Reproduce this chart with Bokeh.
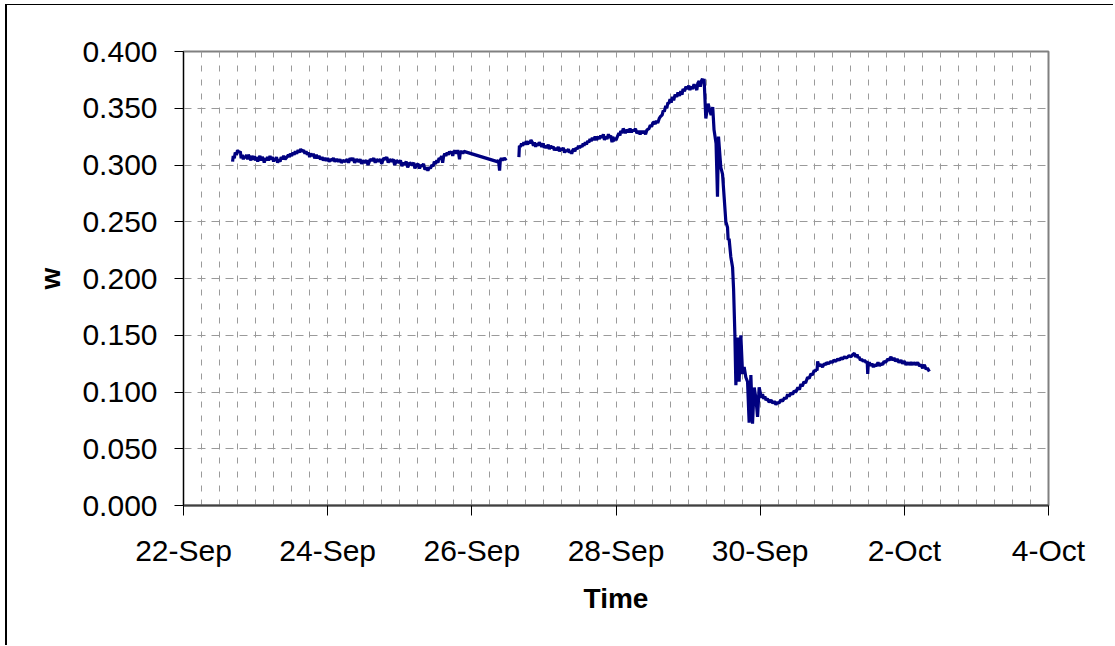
from bokeh.plotting import figure
from bokeh.embed import file_html
from bokeh.resources import INLINE
from bokeh.models import FixedTicker, NumeralTickFormatter, Range1d

# ---- data (x: days since 22-Sep 00:00, y: w) ----
seg1_days = [0.681, 0.690, 0.705, 0.718, 0.735, 0.750, 0.770, 0.788, 0.800, 0.815, 0.830, 0.845,
             0.857, 0.875, 0.890, 0.899, 0.920, 0.935, 0.950, 0.970, 0.985, 0.996, 1.015, 1.030,
             1.042, 1.060, 1.075, 1.093, 1.110, 1.120, 1.135, 1.150, 1.165, 1.181, 1.200, 1.215,
             1.232, 1.250, 1.262, 1.274, 1.290, 1.305, 1.319, 1.340, 1.355, 1.371, 1.390, 1.410,
             1.436, 1.455, 1.470, 1.482, 1.500, 1.520, 1.535, 1.551, 1.570, 1.590, 1.607, 1.625,
             1.645, 1.667, 1.685, 1.700, 1.718, 1.735, 1.750, 1.765, 1.783, 1.800, 1.820, 1.843,
             1.860, 1.880, 1.900, 1.922, 1.940, 1.960, 1.982, 2.000, 2.020, 2.040, 2.061, 2.080,
             2.100, 2.125, 2.149, 2.170, 2.190, 2.215, 2.246, 2.270, 2.290, 2.310, 2.329, 2.350,
             2.375, 2.400, 2.431, 2.450, 2.470, 2.490, 2.510, 2.540, 2.560, 2.590, 2.617, 2.640,
             2.660, 2.680, 2.704, 2.730, 2.750, 2.775, 2.801, 2.820, 2.840, 2.860, 2.885, 2.910,
             2.930, 2.955, 2.986, 3.010, 3.030, 3.050, 3.065, 3.090, 3.110, 3.140, 3.172, 3.195,
             3.210, 3.232, 3.255, 3.275, 3.295, 3.311, 3.330, 3.350, 3.371, 3.390, 3.410, 3.426,
             3.445, 3.465, 3.480, 3.496, 3.515, 3.530, 3.545, 3.565, 3.580, 3.595, 3.607, 3.625,
             3.640, 3.658, 3.675, 3.690, 3.705, 3.718, 3.735, 3.750, 3.774, 3.790, 3.805, 3.815,
             3.829, 3.840, 3.860, 3.875, 3.889, 4.353, 4.370, 4.385, 4.395, 4.410, 4.422, 4.440,
             4.460, 4.482]
seg1_w = [0.303, 0.308, 0.306, 0.311, 0.309, 0.313, 0.311, 0.312, 0.306, 0.309, 0.305, 0.308,
          0.306, 0.309, 0.305, 0.309, 0.307, 0.304, 0.308, 0.305, 0.308, 0.304, 0.307, 0.303,
          0.306, 0.308, 0.304, 0.307, 0.305, 0.302, 0.306, 0.304, 0.307, 0.304, 0.308, 0.305,
          0.307, 0.303, 0.306, 0.304, 0.307, 0.302, 0.305, 0.303, 0.307, 0.305, 0.308, 0.305,
          0.307, 0.309, 0.307, 0.310, 0.308, 0.311, 0.309, 0.312, 0.310, 0.313, 0.311, 0.314,
          0.312, 0.313, 0.310, 0.312, 0.309, 0.311, 0.307, 0.310, 0.308, 0.310, 0.306, 0.309,
          0.306, 0.308, 0.305, 0.307, 0.304, 0.306, 0.304, 0.306, 0.303, 0.305, 0.304, 0.306,
          0.303, 0.305, 0.303, 0.305, 0.302, 0.304, 0.303, 0.305, 0.302, 0.306, 0.304, 0.306,
          0.302, 0.305, 0.303, 0.305, 0.301, 0.304, 0.302, 0.304, 0.300, 0.305, 0.304, 0.306,
          0.302, 0.305, 0.303, 0.305, 0.301, 0.306, 0.305, 0.307, 0.302, 0.305, 0.303, 0.305,
          0.300, 0.304, 0.302, 0.304, 0.299, 0.302, 0.300, 0.303, 0.298, 0.302, 0.300, 0.302,
          0.297, 0.300, 0.301, 0.297, 0.300, 0.299, 0.301, 0.296, 0.298, 0.295, 0.298, 0.297,
          0.300, 0.299, 0.303, 0.301, 0.304, 0.302, 0.306, 0.305, 0.308, 0.302, 0.307, 0.310,
          0.308, 0.311, 0.309, 0.312, 0.310, 0.312, 0.308, 0.312, 0.312, 0.310, 0.313, 0.311,
          0.305, 0.311, 0.312, 0.310, 0.312, 0.303, 0.304, 0.295, 0.304, 0.306, 0.304, 0.306,
          0.305, 0.306]

seg2_days = [4.653, 4.660, 4.675, 4.690, 4.705, 4.722, 4.740, 4.755, 4.774, 4.790, 4.805, 4.820,
             4.839, 4.855, 4.870, 4.885, 4.899, 4.915, 4.935, 4.954, 4.970, 4.990, 5.005, 5.024,
             5.040, 5.060, 5.075, 5.093, 5.110, 5.130, 5.145, 5.163, 5.180, 5.200, 5.215, 5.232,
             5.250, 5.270, 5.285, 5.301, 5.320, 5.340, 5.355, 5.371, 5.385, 5.400, 5.413, 5.430,
             5.445, 5.464, 5.480, 5.495, 5.510, 5.530, 5.545, 5.556, 5.575, 5.590, 5.607, 5.625,
             5.640, 5.655, 5.672, 5.690, 5.710, 5.732, 5.750, 5.770, 5.788, 5.805, 5.825, 5.840,
             5.857, 5.875, 5.895, 5.910, 5.926, 5.945, 5.955, 5.968, 5.985, 6.000, 6.019, 6.040,
             6.055, 6.065, 6.085, 6.100, 6.111, 6.130, 6.150, 6.176, 6.195, 6.215, 6.235, 6.251,
             6.270, 6.290, 6.315, 6.335, 6.355, 6.372, 6.390, 6.410, 6.430, 6.458, 6.475, 6.495,
             6.510, 6.528, 6.545, 6.560, 6.579, 6.600, 6.621, 6.640, 6.655, 6.670, 6.690, 6.705,
             6.720, 6.732, 6.750, 6.765, 6.783, 6.800, 6.820, 6.843, 6.860, 6.880, 6.899, 6.915,
             6.930, 6.950, 6.970, 6.992, 7.010, 7.025, 7.038, 7.060, 7.083, 7.100, 7.121, 7.135,
             7.153, 7.170, 7.185, 7.200, 7.212, 7.222,
             7.246, 7.278, 7.319, 7.342, 7.360, 7.388, 7.408, 7.422, 7.454, 7.478,
             7.500, 7.524, 7.547, 7.556, 7.569, 7.593, 7.617, 7.631, 7.649, 7.663,
             7.686, 7.708, 7.732, 7.756, 7.778, 7.801, 7.825, 7.847, 7.871, 7.894,
             7.917, 7.940, 7.964, 7.986,
             8.000, 8.015, 8.033, 8.050, 8.065, 8.079, 8.100, 8.125, 8.150, 8.176, 8.195, 8.218,
             8.240, 8.260, 8.285, 8.310, 8.340, 8.360, 8.381, 8.400, 8.426, 8.450, 8.472, 8.495,
             8.524, 8.545, 8.565, 8.585, 8.607, 8.630, 8.658, 8.680, 8.704, 8.725, 8.750, 8.765,
             8.774, 8.790, 8.797, 8.815, 8.843, 8.865, 8.889, 8.910, 8.926, 8.950, 8.982, 9.000,
             9.024, 9.050, 9.075, 9.100, 9.121, 9.145, 9.168, 9.200, 9.233, 9.260, 9.285, 9.307,
             9.325, 9.344, 9.360, 9.371, 9.390, 9.408, 9.430, 9.446, 9.470, 9.485, 9.492, 9.500,
             9.514, 9.535, 9.551, 9.570, 9.583, 9.610, 9.635, 9.655, 9.676, 9.700, 9.718, 9.740,
             9.769, 9.790, 9.815, 9.835, 9.857, 9.880, 9.900, 9.925, 9.954, 9.975, 10.000, 10.025,
             10.051, 10.070, 10.093, 10.115, 10.135, 10.160, 10.185, 10.210, 10.231, 10.255, 10.278, 10.301,
             10.320, 10.347]
seg2_w = [0.307, 0.317, 0.316, 0.319, 0.317, 0.320, 0.318, 0.321, 0.318, 0.321, 0.319, 0.322,
          0.320, 0.317, 0.320, 0.316, 0.319, 0.317, 0.320, 0.318, 0.316, 0.319, 0.315, 0.317,
          0.315, 0.318, 0.314, 0.317, 0.315, 0.316, 0.313, 0.315, 0.313, 0.316, 0.312, 0.315,
          0.313, 0.315, 0.311, 0.313, 0.312, 0.314, 0.311, 0.312, 0.310, 0.313, 0.314, 0.312,
          0.315, 0.314, 0.317, 0.315, 0.317, 0.316, 0.319, 0.317, 0.320, 0.318, 0.321, 0.320,
          0.323, 0.321, 0.324, 0.322, 0.325, 0.322, 0.325, 0.323, 0.326, 0.324, 0.327, 0.322,
          0.325, 0.323, 0.327, 0.324, 0.326, 0.320, 0.325, 0.321, 0.324, 0.322, 0.325, 0.328,
          0.326, 0.330, 0.328, 0.332, 0.331, 0.328, 0.331, 0.329, 0.332, 0.329, 0.331, 0.330,
          0.332, 0.328, 0.330, 0.327, 0.330, 0.328, 0.330, 0.327, 0.331, 0.332, 0.335, 0.334,
          0.337, 0.338, 0.336, 0.339, 0.337, 0.341, 0.343, 0.344, 0.348, 0.347, 0.352, 0.350,
          0.355, 0.354, 0.358, 0.355, 0.360, 0.357, 0.362, 0.360, 0.364, 0.361, 0.365, 0.362,
          0.367, 0.365, 0.369, 0.367, 0.370, 0.366, 0.369, 0.367, 0.371, 0.369, 0.366, 0.372,
          0.374, 0.369, 0.374, 0.376, 0.372, 0.376,
          0.341, 0.354, 0.344, 0.351, 0.331, 0.319, 0.272, 0.325, 0.298, 0.292,
          0.272, 0.250, 0.245, 0.234, 0.235, 0.219, 0.210, 0.191, 0.151, 0.106,
          0.148, 0.109, 0.150, 0.116, 0.122, 0.113, 0.109, 0.073, 0.115, 0.072,
          0.104, 0.095, 0.078, 0.104,
          0.100, 0.095, 0.098, 0.094, 0.096, 0.093, 0.094, 0.091, 0.093, 0.090, 0.092, 0.089,
          0.091, 0.090, 0.093, 0.092, 0.095, 0.094, 0.098, 0.096, 0.099, 0.098, 0.101, 0.100,
          0.104, 0.102, 0.107, 0.105, 0.109, 0.108, 0.113, 0.112, 0.116, 0.115, 0.119, 0.118,
          0.120, 0.119, 0.127, 0.123, 0.124, 0.122, 0.125, 0.124, 0.126, 0.125, 0.127, 0.126,
          0.128, 0.127, 0.129, 0.128, 0.130, 0.129, 0.131, 0.130, 0.132, 0.131, 0.133, 0.134,
          0.131, 0.133, 0.130, 0.131, 0.128, 0.129, 0.127, 0.128, 0.126, 0.127, 0.116, 0.125,
          0.126, 0.123, 0.125, 0.122, 0.124, 0.123, 0.126, 0.123, 0.125, 0.124, 0.127, 0.126,
          0.129, 0.128, 0.131, 0.128, 0.130, 0.127, 0.129, 0.126, 0.128, 0.125, 0.127, 0.124,
          0.126, 0.124, 0.126, 0.124, 0.126, 0.124, 0.126, 0.123, 0.124, 0.121, 0.124, 0.120,
          0.121, 0.118]

x_tick_days = [0, 2, 4, 6, 8, 10, 12]
x_tick_labels = ["22-Sep", "24-Sep", "26-Sep", "28-Sep", "30-Sep", "2-Oct", "4-Oct"]
y_ticks = [0.0, 0.05, 0.10, 0.15, 0.20, 0.25, 0.30, 0.35, 0.40]

FONT = "Liberation Sans"
GRID = "#9a9a9a"

p = figure(width=1108, height=641,
           min_border_left=176, min_border_top=46, min_border_right=67, min_border_bottom=141,
           x_range=Range1d(0, 12), y_range=Range1d(0, 0.4),
           output_backend="svg", toolbar_location=None,
           background_fill_color="white", border_fill_color="white")
# outer chart border: only its left and top edges fall inside the picture
p.styles = {"margin-left": "5px", "margin-top": "4px",
            "border-left": "2px solid black", "border-top": "1px solid black"}

p.outline_line_color = "#808080"
p.outline_line_width = 2

minor = [i * 0.25 for i in range(0, 49) if i % 8 != 0]
p.xaxis.ticker = FixedTicker(ticks=x_tick_days, minor_ticks=minor)
p.xaxis.major_label_overrides = {d: s for d, s in zip(x_tick_days, x_tick_labels)}
p.yaxis.ticker = FixedTicker(ticks=y_ticks, minor_ticks=[])
p.yaxis.formatter = NumeralTickFormatter(format="0.000")

for ax in (p.xaxis[0], p.yaxis[0]):
    ax.major_label_text_font = FONT
    ax.major_label_text_font_size = "30px"
    ax.major_label_text_color = "black"
    ax.axis_label_text_font = FONT
    ax.axis_label_text_font_size = "28px"
    ax.axis_label_text_font_style = "bold"
    ax.axis_label_text_color = "black"
    ax.minor_tick_line_color = None
    ax.major_tick_in = 0
    ax.major_tick_line_color = "black"

p.xaxis.axis_label = "Time"
p.yaxis.axis_label = "w"
p.xaxis.major_tick_out = 10
p.yaxis.major_tick_out = 9
p.xaxis.major_label_standoff = 18
p.yaxis.major_label_standoff = 17
p.xaxis.axis_label_standoff = 13
p.yaxis.axis_label_standoff = 13
p.xaxis.axis_line_color = "#404040"
p.xaxis.axis_line_width = 2
p.yaxis.axis_line_color = "black"
p.yaxis.axis_line_width = 1

p.xgrid.ticker = FixedTicker(ticks=x_tick_days, minor_ticks=minor)
p.xgrid.grid_line_color = GRID
p.xgrid.grid_line_dash = "6 8"
p.xgrid.minor_grid_line_color = GRID
p.xgrid.minor_grid_line_dash = "6 8"
p.ygrid.grid_line_color = GRID
p.ygrid.grid_line_dash = "8 6"

p.line(seg1_days, seg1_w, line_color="#000080", line_width=3.2)
p.line(seg2_days, seg2_w, line_color="#000080", line_width=3.2)

open("out.html", "w").write(file_html(p, INLINE))
